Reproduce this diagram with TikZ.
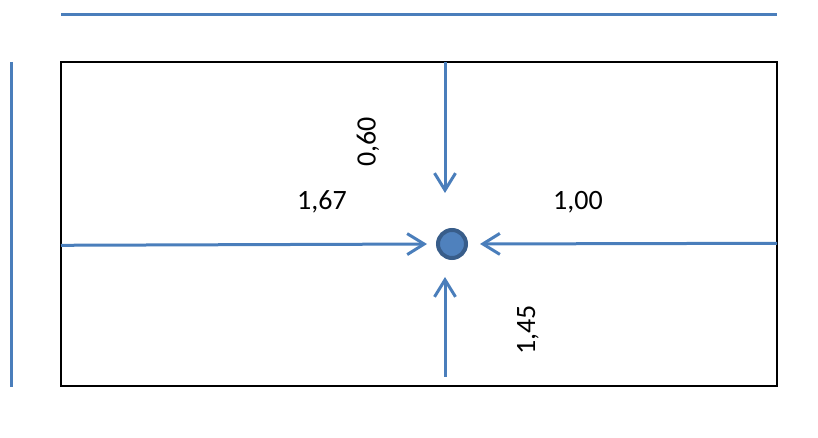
\documentclass[tikz,border=0pt]{standalone}
\usepackage{fontspec}
\setmainfont{Carlito}
\usetikzlibrary{arrows.meta}
\definecolor{ln}{HTML}{4A7EBB}
\definecolor{dotf}{HTML}{4F81BD}
\definecolor{dotb}{HTML}{385D8A}
\tikzset{
  frame/.style={draw=black,line width=2pt,inner sep=0pt,minimum width=716pt,minimum height=324pt},
  rule/.style={draw=ln,line width=3pt},
  ar/.style={-{Straight Barb[length=17pt,width=21pt]},line width=3pt,draw=ln},
  pt/.style={circle,fill=dotf,draw=dotb,line width=4pt,inner sep=0pt,minimum size=28pt},
  val/.style={font=\fontsize{28}{30}\selectfont,inner sep=0pt},
}

\begin{document}
\begin{tikzpicture}[x=1pt,y=1pt]
  \useasboundingbox (0,0) rectangle (818,438);
  \draw[rule] (61,423.7) -- (777,423.7);
  \draw[rule] (11,376) -- (11,51.3);

  \node[frame] (fr) at (419,213.5) {};
  \node[pt] (dot) at (452,194) {};

  \coordinate (n) at (445,375.5);
  \coordinate (s) at (445,61.3);
  \coordinate (w) at (61,192.7);
  \coordinate (e) at (777,194.7);

  \draw[ar,shorten >=35pt] (n) -- (n |- dot.north);
  \draw[ar,shorten >=17pt] (s) -- (s |- dot.south);
  \draw[ar,shorten >=9pt] (w) -- (dot.west);
  \draw[ar,shorten >=12pt] (e) -- (dot.east);

  \node[val,rotate=90] (vn) at (368,296) {0,60};
  \node[val] (vw) at (322,236) {1,67};
  \node[val] (ve) at (578,236) {1,00};
  \node[val,rotate=90] (vs) at (528,108) {1,45};
\end{tikzpicture}
\end{document}
